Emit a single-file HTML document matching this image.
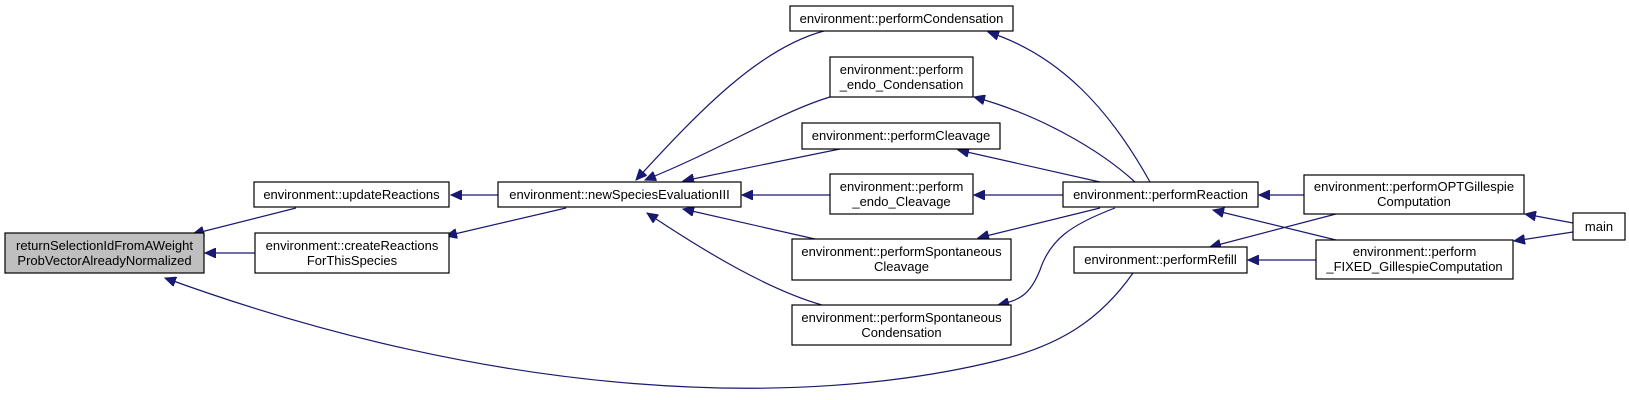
<!DOCTYPE html>
<html><head><meta charset="utf-8"><style>
html,body{margin:0;padding:0;background:#fff;}
svg{display:block;}
text{font-family:"Liberation Sans",Arial,sans-serif;font-size:13px;fill:#000;text-anchor:middle;}
.n{fill:#fff;stroke:#000;stroke-width:1.2;}
.e{fill:none;stroke:#191970;stroke-width:1.2;}
</style></head><body>
<svg width="1629" height="400" viewBox="0 0 1629 400" xmlns="http://www.w3.org/2000/svg">
<defs>
<marker id="a" markerUnits="userSpaceOnUse" markerWidth="12" markerHeight="10" refX="11" refY="5" orient="auto">
<path d="M0,0 L11,5 L0,10 z" fill="#191970" stroke="#191970"/>
</marker>
</defs>
<!-- edges -->
<path class="e" marker-end="url(#a)" d="M296,208 L193,234"/>
<path class="e" marker-end="url(#a)" d="M255,253 L205,253"/>
<path class="e" marker-end="url(#a)" d="M1133,273 C1100,320 1060,345 1000,360 C800,410 500,400 165,278"/>
<path class="e" marker-end="url(#a)" d="M498,195 L451,195"/>
<path class="e" marker-end="url(#a)" d="M566,208 L446,236"/>
<path class="e" marker-end="url(#a)" d="M824,31 C760,48 700,110 636,180"/>
<path class="e" marker-end="url(#a)" d="M830,97 C780,112 720,150 645,180"/>
<path class="e" marker-end="url(#a)" d="M840,149 L683,181"/>
<path class="e" marker-end="url(#a)" d="M830,195 L742,195"/>
<path class="e" marker-end="url(#a)" d="M815,239 L683,209"/>
<path class="e" marker-end="url(#a)" d="M822,305 C770,290 710,255 647,213"/>
<path class="e" marker-end="url(#a)" d="M1150,182 C1110,110 1060,55 988,32"/>
<path class="e" marker-end="url(#a)" d="M1135,182 C1100,150 1040,115 974,97"/>
<path class="e" marker-end="url(#a)" d="M1100,182 L958,150"/>
<path class="e" marker-end="url(#a)" d="M1063,195 L974,195"/>
<path class="e" marker-end="url(#a)" d="M1100,208 L978,238"/>
<path class="e" marker-end="url(#a)" d="M1115,208 C1070,225 1050,240 1040,270 C1030,295 1020,300 998,305"/>
<path class="e" marker-end="url(#a)" d="M1304,195 L1259,195"/>
<path class="e" marker-end="url(#a)" d="M1336,214 L1210,247"/>
<path class="e" marker-end="url(#a)" d="M1336,240 L1213,210"/>
<path class="e" marker-end="url(#a)" d="M1316,260 L1248,260"/>
<path class="e" marker-end="url(#a)" d="M1573,223 L1525,214"/>
<path class="e" marker-end="url(#a)" d="M1573,232 L1514,241"/>
<!-- nodes -->
<rect x="5" y="233" width="199" height="40" fill="#bfbfbf" stroke="#000" stroke-width="1.2"/>
<text x="104.5" y="250">returnSelectionIdFromAWeight</text>
<text x="104.5" y="265">ProbVectorAlreadyNormalized</text>
<rect class="n" x="254" y="182" width="195" height="25"/>
<text x="351.5" y="199">environment::updateReactions</text>
<rect class="n" x="255" y="233" width="194" height="40"/>
<text x="352" y="250">environment::createReactions</text>
<text x="352" y="265">ForThisSpecies</text>
<rect class="n" x="498" y="182" width="243" height="25"/>
<text x="619.5" y="199">environment::newSpeciesEvaluationIII</text>
<rect class="n" x="790" y="6" width="223" height="25"/>
<text x="901.5" y="23">environment::performCondensation</text>
<rect class="n" x="830" y="57" width="143" height="40"/>
<text x="901.5" y="74">environment::perform</text>
<text x="901.5" y="89">_endo_Condensation</text>
<rect class="n" x="802" y="123" width="198" height="26"/>
<text x="901" y="140">environment::performCleavage</text>
<rect class="n" x="830" y="174" width="143" height="40"/>
<text x="901.5" y="191">environment::perform</text>
<text x="901.5" y="206">_endo_Cleavage</text>
<rect class="n" x="792" y="239" width="219" height="41"/>
<text x="901.5" y="256">environment::performSpontaneous</text>
<text x="901.5" y="271">Cleavage</text>
<rect class="n" x="792" y="305" width="219" height="40"/>
<text x="901.5" y="322">environment::performSpontaneous</text>
<text x="901.5" y="337">Condensation</text>
<rect class="n" x="1063" y="182" width="195" height="25"/>
<text x="1160.5" y="199">environment::performReaction</text>
<rect class="n" x="1304" y="175" width="220" height="39"/>
<text x="1414" y="191">environment::performOPTGillespie</text>
<text x="1414" y="206">Computation</text>
<rect class="n" x="1074" y="247" width="173" height="26"/>
<text x="1160.5" y="264">environment::performRefill</text>
<rect class="n" x="1316" y="240" width="197" height="39"/>
<text x="1414.5" y="256">environment::perform</text>
<text x="1414.5" y="271">_FIXED_GillespieComputation</text>
<rect class="n" x="1573" y="213" width="52" height="27"/>
<text x="1599" y="231">main</text>
</svg>
</body></html>
